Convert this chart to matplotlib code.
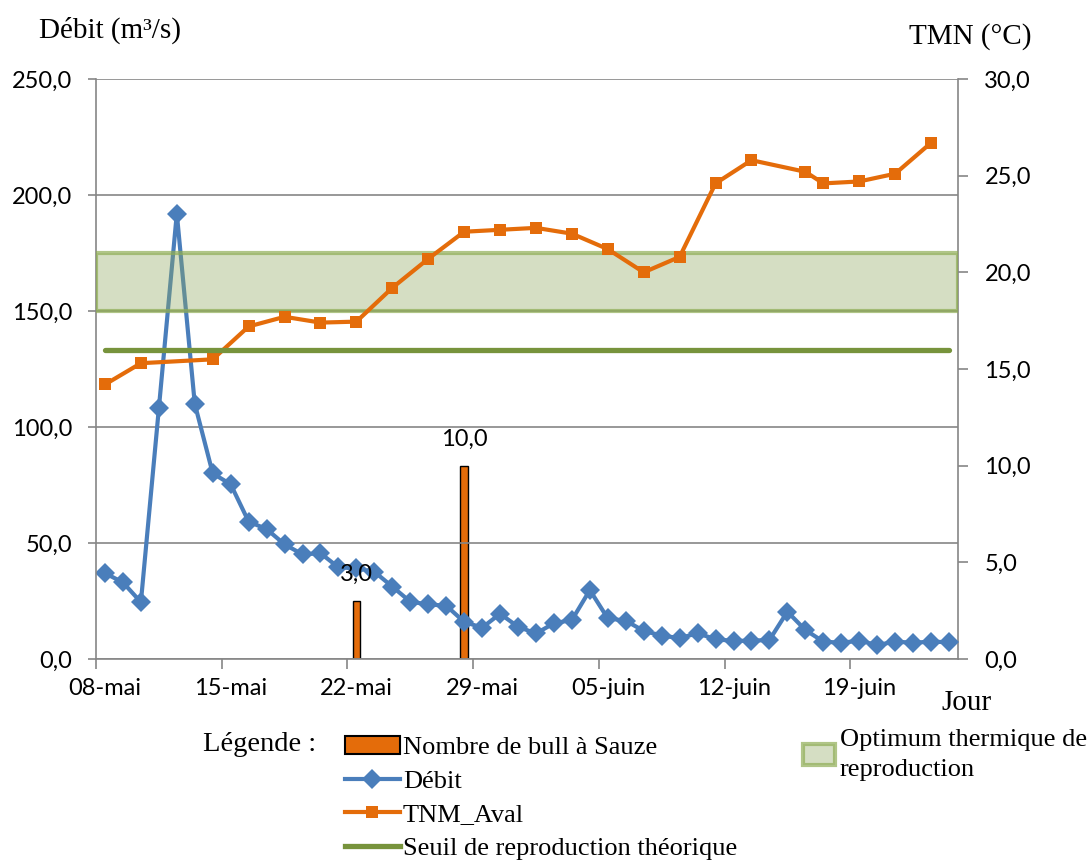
import numpy as np
import matplotlib.pyplot as plt
from matplotlib.ticker import FuncFormatter
from matplotlib.lines import Line2D
from matplotlib.patches import Patch, Rectangle

# jours comptés depuis le 08-mai (0) jusqu'au 24-juin (47)
n_jours = 48
debit = [37, 33, 24.5, 108, 192, 110, 80, 75.3, 59.2, 56, 49.4, 45.1, 45.6, 39.5,
         39.1, 37.6, 31.2, 24.7, 23.5, 23, 16, 13.5, 19.5, 13.9, 11, 15.4, 16.8,
         29.7, 17.5, 16.5, 12.1, 10.1, 9, 11.1, 8.5, 7.8, 7.9, 8.2, 20.4, 12.5,
         7.5, 7.0, 7.9, 6.0, 7.5, 7.0, 7.5, 7.2]

tmn_jours = [0, 2, 6, 8, 10, 12, 14, 16, 18, 20, 22, 24, 26, 28, 30, 32, 34, 36,
             39, 40, 42, 44, 46]
tmn = [14.2, 15.3, 15.5, 17.2, 17.7, 17.4, 17.45, 19.2, 20.7, 22.1, 22.2, 22.3,
       22.0, 21.2, 20.0, 20.8, 24.6, 25.8, 25.2, 24.6, 24.7, 25.1, 26.7]

bull_jours = [14, 20]
bull = [3, 10]

seuil = 16.0
optimum = (18.0, 21.0)

tick_jours = [0, 7, 14, 21, 28, 35, 42]
tick_labels = ['08-mai', '15-mai', '22-mai', '29-mai', '05-juin', '12-juin', '19-juin']

blue = '#4A7EBB'
orange = '#E46C0A'
green = '#77933C'
grey = '#868686'
band_face = (0.56, 0.66, 0.36, 0.37)
band_edge = (0.56, 0.68, 0.33, 0.7)
serif = 'Liberation Serif'
sans = 'Lato'

fmt = FuncFormatter(lambda v, p: f'{v:.1f}'.replace('.', ','))

fig = plt.figure(figsize=(10.92, 8.63), dpi=100)
rect = [96 / 1092, 1 - 659 / 863, 862 / 1092, 580 / 863]
ax = fig.add_axes(rect)      # Débit (gauche)
ax2 = ax.twinx()             # échelle droite, barres
ax3 = ax.twinx()             # température, seuil, optimum (au dessus)
ax2.set_zorder(0)
ax.set_zorder(1)
ax3.set_zorder(2)
for a in (ax, ax2, ax3):
    a.patch.set_visible(False)

x = np.arange(n_jours) + 0.5

# barres
ax2.bar(np.array(bull_jours) + 0.5, bull, width=0.43, color=orange,
        edgecolor='black', lw=1)

# débit
ax.plot(x, debit, color=blue, lw=3, marker='D', ms=10.5, mew=0)

# température + seuil + optimum
ax3.plot(np.array(tmn_jours) + 0.5, tmn, color=orange, lw=3, marker='s', ms=8.5, mew=0)
ax3.plot(x, [seuil] * n_jours, color=green, lw=3.8, solid_capstyle='round')
ax3.add_patch(Rectangle((0, optimum[0]), n_jours, optimum[1] - optimum[0],
                        facecolor=band_face, edgecolor=band_edge, lw=3))
for j, v in zip(bull_jours, bull):
    ax3.annotate(f'{v:.1f}'.replace('.', ','), (j + 0.5, v), xytext=(0, 19),
                 textcoords='offset points', ha='center', va='center',
                 fontsize=17, family=sans)

for a in (ax, ax2, ax3):
    a.set_xlim(0, n_jours)
ax.set_ylim(0, 250)
ax2.set_ylim(0, 30)
ax3.set_ylim(0, 30)
ax3.axis('off')

ax.set_yticks(np.arange(0, 251, 50))
ax2.set_yticks(np.arange(0, 31, 5))
ax.yaxis.set_major_formatter(fmt)
ax2.yaxis.set_major_formatter(fmt)
ax.yaxis.grid(True, color=grey, lw=1.2)
ax.set_axisbelow(True)

ax.set_xticks(tick_jours)
ax.set_xticklabels([])
ax.set_xticks(np.array(tick_jours) + 0.5, labels=tick_labels, minor=True)
ax.tick_params(axis='x', which='major', length=7, width=1.2, color=grey)
ax.tick_params(axis='x', which='minor', length=0, pad=14, labelsize=17)
ax.tick_params(axis='y', length=6, width=1.2, color=grey, pad=11, labelsize=17)
ax2.tick_params(axis='y', length=7, width=1.2, color=grey, pad=12, labelsize=17)
for lab in ax.get_xticklabels(minor=True) + ax.get_yticklabels() + ax2.get_yticklabels():
    lab.set_family(sans)

for s in ('top', 'right'):
    ax.spines[s].set_visible(False)
for s in ('left', 'bottom'):
    ax.spines[s].set_color(grey)
    ax.spines[s].set_linewidth(1.2)
for s in ('top', 'left', 'bottom'):
    ax2.spines[s].set_visible(False)
ax2.spines['right'].set_color(grey)
ax2.spines['right'].set_linewidth(1.2)

# textes
fig.text(39 / 1092, 1 - 38 / 863, 'Débit (m³/s)', family=serif, fontsize=21, va='baseline')
fig.text(909 / 1092, 1 - 44 / 863, 'TMN (°C)', family=serif, fontsize=21, va='baseline')
fig.text(941 / 1092, 1 - 710 / 863, 'Jour', family=serif, fontsize=21, va='baseline')
fig.text(203 / 1092, 1 - 751 / 863, 'Légende :', family=serif, fontsize=20.5, va='baseline')

h = [Patch(facecolor=orange, edgecolor='black', lw=1.5),
     Line2D([], [], color=blue, lw=3, marker='D', ms=10.5, mew=0),
     Line2D([], [], color=orange, lw=3, marker='s', ms=8, mew=0),
     Line2D([], [], color=green, lw=3.8)]
labels = ['Nombre de bull à Sauze', 'Débit', 'TNM_Aval', 'Seuil de reproduction théorique']
fig.legend(h, labels, loc='upper left', bbox_to_anchor=(345 / 1092, 1 - 736 / 863),
           frameon=False, prop={'family': serif, 'size': 19}, handlelength=2.08,
           handletextpad=0.12, labelspacing=0.38, borderpad=0, borderaxespad=0)
leg2 = fig.legend([Patch(facecolor=band_face, edgecolor=band_edge, lw=3)],
                  ['Optimum thermique de\nreproduction'], loc='upper left',
                  bbox_to_anchor=(803 / 1092, 1 - 729 / 863), frameon=False,
                  prop={'family': serif, 'size': 19}, handlelength=1.2, handleheight=0.85,
                  handletextpad=0.2, borderpad=0, borderaxespad=0)
leg2.get_texts()[0].set_linespacing(1.45)

fig.savefig('out.png', dpi=100)
